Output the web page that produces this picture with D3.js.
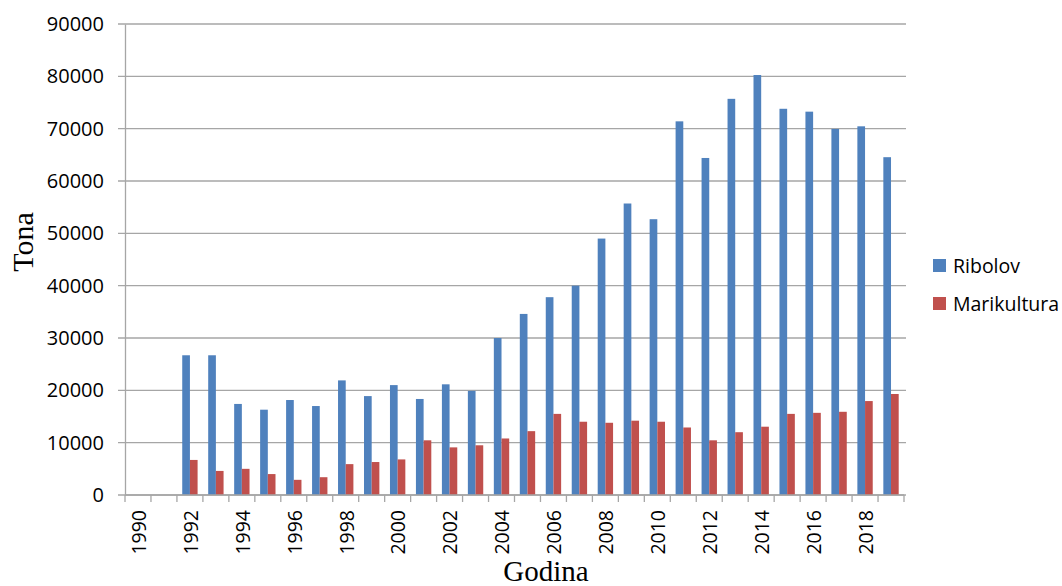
<!DOCTYPE html>
<html>
<head>
<meta charset="utf-8">
<script src="https://cdn.jsdelivr.net/npm/d3@7"></script>
<style>
  body { margin: 0; background: #fff; }
  svg { display: block; }
</style>
</head>
<body>
<svg id="chart"></svg>
<script>
const width = 1062;
const height = 586;

const years = d3.range(1990, 2020);
const series = ["Ribolov", "Marikultura"];
const colors = ["#4f81bd", "#c0504d"];

const ribolov = [null, null, 26700, 26700, 17400, 16300, 18150, 17000, 21900, 18900,
    21000, 18350, 21150, 19900, 30000, 34600, 37800, 40000, 49000, 55700,
    52700, 71400, 64400, 75700, 80250, 73800, 73250, 69950, 70450, 64550];
const marikultura = [null, null, 6700, 4600, 5000, 4000, 2900, 3400, 5900, 6300,
    6800, 10450, 9100, 9500, 10800, 12200, 15500, 14000, 13800, 14200,
    14000, 12900, 10450, 12000, 13050, 15500, 15700, 15900, 17950, 19300];

const yTicks = d3.range(0, 90001, 10000);

const margin = { top: 24, right: 158, bottom: 91, left: 125 };
const innerW = width - margin.left - margin.right;
const innerH = height - margin.top - margin.bottom;

const svg = d3.select("#chart").attr("width", width).attr("height", height);
const g = svg.append("g").attr("transform", `translate(${margin.left},${margin.top})`);

const x = d3.scaleBand().domain(years).range([0, innerW]);
const x1 = d3.scaleBand().domain(series).range([0, x.bandwidth()]).paddingOuter(0.69);
const y = d3.scaleLinear().domain([0, 90000]).range([innerH, 0]);

// gridlines
g.append("g")
    .selectAll("line")
    .data(yTicks)
    .join("line")
    .attr("x1", -7)
    .attr("x2", innerW + 2)
    .attr("y1", d => y(d))
    .attr("y2", d => y(d))
    .attr("stroke", "#a6a6a6")
    .attr("stroke-width", 1.3);

// y axis
const yAxis = g.append("g").call(d3.axisLeft(y).tickValues(yTicks).tickFormat(d3.format("d")).tickSize(0).tickPadding(21));
yAxis.select(".domain").attr("stroke", "#a6a6a6").attr("stroke-width", 1.3);
yAxis.selectAll("text")
    .attr("font-family", "'Open Sans', sans-serif")
    .attr("font-size", 20)
    .attr("fill", "#000");

// bars
const rows = years.map((yr, i) => ({ year: yr, values: [ribolov[i], marikultura[i]] }));
g.append("g")
    .selectAll("g")
    .data(rows)
    .join("g")
    .attr("transform", d => `translate(${x(d.year)},0)`)
    .selectAll("rect")
    .data(d => d.values.map((v, j) => ({ key: series[j], v, j })).filter(d => d.v != null))
    .join("rect")
    .attr("x", d => x1(d.key))
    .attr("width", x1.bandwidth())
    .attr("y", d => y(d.v))
    .attr("height", d => innerH - y(d.v))
    .attr("fill", d => colors[d.j]);

// x axis line and ticks at category boundaries
const xg = g.append("g").attr("transform", `translate(0,${innerH})`);
xg.append("line")
    .attr("x1", 0).attr("x2", innerW)
    .attr("stroke", "#a6a6a6").attr("stroke-width", 1.3);
xg.selectAll("line.tick")
    .data(years.concat([null]))
    .join("line")
    .attr("class", "tick")
    .attr("x1", d => d == null ? innerW : x(d))
    .attr("x2", d => d == null ? innerW : x(d))
    .attr("y1", 0).attr("y2", 7)
    .attr("stroke", "#a6a6a6").attr("stroke-width", 1.3);

xg.selectAll("text")
    .data(years.filter(d => d % 2 === 0))
    .join("text")
    .attr("transform", d => `translate(${x(d) + x.bandwidth() / 2 + 1},15) rotate(-90)`)
    .attr("text-anchor", "end")
    .attr("dy", "0.35em")
    .attr("font-family", "'Open Sans', sans-serif")
    .attr("font-size", 19.5)
    .text(d => d);

// axis titles
svg.append("text")
    .attr("transform", "translate(33,242) rotate(-90)")
    .attr("text-anchor", "middle")
    .attr("font-family", "'Liberation Serif', serif")
    .attr("font-size", 30)
    .text("Tona");

svg.append("text")
    .attr("x", 546)
    .attr("y", 581)
    .attr("text-anchor", "middle")
    .attr("font-family", "'Liberation Serif', serif")
    .attr("font-size", 29)
    .text("Godina");

// legend
const legend = svg.append("g").attr("transform", "translate(933,259)");
const li = legend.selectAll("g")
    .data(series)
    .join("g")
    .attr("transform", (d, i) => `translate(0,${i * 38})`);
li.append("rect")
    .attr("width", 13).attr("height", 13)
    .attr("fill", (d, i) => colors[i]);
li.append("text")
    .attr("x", 20)
    .attr("y", 7)
    .attr("dy", "0.35em")
    .attr("font-family", "'Open Sans', sans-serif")
    .attr("font-size", 19.5)
    .text(d => d);
</script>
</body>
</html>
